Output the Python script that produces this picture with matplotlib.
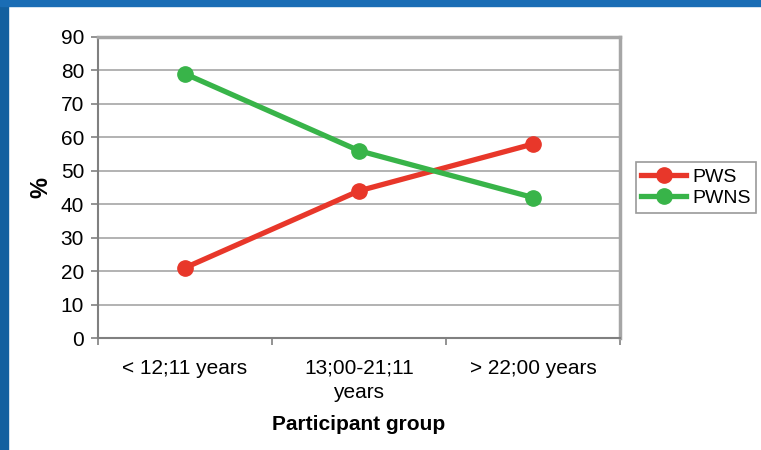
import matplotlib
matplotlib.use("Agg")
import matplotlib.pyplot as plt
from matplotlib.patches import Rectangle

plt.rcParams['font.family'] = ['Liberation Sans', 'DejaVu Sans']

groups = ['< 12;11 years', '13;00-21;11\nyears', '> 22;00 years']
pws = [21, 44, 58]
pwns = [79, 56, 42]

fig = plt.figure(figsize=(7.61, 4.5), dpi=100)

# slide frame in blue along left and top
fig.patches.append(Rectangle((0, 0), 8 / 761, 1, transform=fig.transFigure,
                             color='#13609f', zorder=0))
fig.patches.append(Rectangle((0, 1 - 6 / 450), 1, 6 / 450, transform=fig.transFigure,
                             color='#1a6db5', zorder=0))

ax = fig.add_axes([98 / 761, 1 - 338 / 450, 522 / 761, 301 / 450])
x = list(range(len(groups)))
ax.plot(x, pws, color='#e8372a', lw=3.8, marker='o', ms=11, label='PWS', zorder=3)
ax.plot(x, pwns, color='#38b449', lw=3.8, marker='o', ms=11, label='PWNS', zorder=3)

ax.set_xlim(-0.5, 2.5)
ax.set_ylim(0, 90)
ax.set_yticks(range(0, 91, 10))
ax.yaxis.grid(True, color='#a6a6a6', lw=1.2)
ax.set_axisbelow(True)

ax.set_xticks(x)
ax.set_xticklabels(groups, fontsize=15, linespacing=1.35)
ax.set_xticks([-0.5, 0.5, 1.5, 2.5], minor=True)
ax.tick_params(axis='x', which='major', length=0, pad=15)
ax.tick_params(axis='x', which='minor', length=5, color='#808080', width=1.2)
ax.tick_params(axis='y', labelsize=15, length=5, color='#808080', width=1.2, pad=5)

for side in ['left', 'bottom']:
    ax.spines[side].set_color('#808080')
    ax.spines[side].set_linewidth(1.5)
for side in ['top', 'right']:
    ax.spines[side].set_color('#a6a6a6')
    ax.spines[side].set_linewidth(2.5)

ax.set_ylabel('%', fontsize=17, fontweight='bold')
ax.yaxis.set_label_coords(-0.087, 0.5)
ax.set_xlabel('Participant group', fontsize=15, fontweight='bold')
ax.xaxis.set_label_coords(0.5, -0.255)

leg = ax.legend(loc='center left', bbox_to_anchor=(1.03, 0.5), fontsize=14,
                frameon=True, fancybox=False, edgecolor='#808080',
                handlelength=2.3, borderpad=0.3, labelspacing=0.2,
                handletextpad=0.3, borderaxespad=0)
leg.get_frame().set_linewidth(1.2)

fig.savefig('out.png', dpi=100)
